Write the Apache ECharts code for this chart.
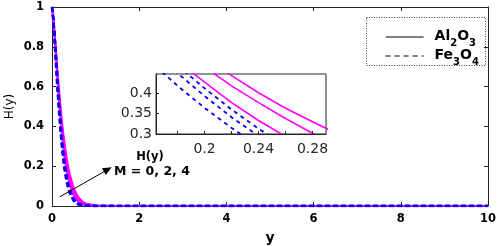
<!DOCTYPE html>
<html>
<head>
<meta charset="utf-8">
<script src="https://cdn.jsdelivr.net/npm/echarts@6/dist/echarts.min.js"></script>
<style>
html,body{margin:0;padding:0;background:#fff;}
#chart{width:498px;height:246px;}
</style>
</head>
<body>
<div id="chart"></div>
<script>
// ---- data ----
var yGrid = [0, 0.03, 0.06, 0.09, 0.12, 0.14, 0.16, 0.18, 0.2, 0.22, 0.24, 0.26, 0.28, 0.3, 0.34, 0.4, 0.5, 0.6, 0.7, 0.8, 1.0, 1.5, 10];
// Al2O3 (solid), M = 0, 2, 4
var al2o3_M0 = [1, 0.937, 0.847, 0.749, 0.652, 0.590, 0.531, 0.479, 0.427, 0.377, 0.333, 0.294, 0.258, 0.226, 0.171, 0.111, 0.051, 0.022, 0.009, 0.0035, 0.0005, 0, 0];
var al2o3_M2 = [1, 0.944, 0.861, 0.772, 0.682, 0.624, 0.568, 0.514, 0.464, 0.418, 0.377, 0.338, 0.302, 0.268, 0.208, 0.140, 0.069, 0.033, 0.015, 0.0064, 0.0011, 0, 0];
var al2o3_M4 = [1, 0.944, 0.865, 0.780, 0.695, 0.640, 0.587, 0.536, 0.488, 0.443, 0.401, 0.363, 0.330, 0.298, 0.236, 0.165, 0.088, 0.045, 0.022, 0.011, 0.0022, 0, 0];
// Fe3O4 (dashed), M = 0, 2, 4
var fe3o4_M0 = [1, 0.929, 0.825, 0.713, 0.603, 0.540, 0.477, 0.418, 0.364, 0.315, 0.271, 0.232, 0.196, 0.165, 0.117, 0.068, 0.025, 0.009, 0.003, 0.001, 0, 0, 0];
var fe3o4_M2 = [1, 0.940, 0.846, 0.741, 0.635, 0.569, 0.508, 0.449, 0.393, 0.341, 0.295, 0.254, 0.217, 0.184, 0.131, 0.076, 0.029, 0.010, 0.003, 0.001, 0, 0, 0];
var fe3o4_M4 = [1, 0.945, 0.857, 0.756, 0.654, 0.588, 0.526, 0.468, 0.412, 0.360, 0.313, 0.271, 0.233, 0.199, 0.143, 0.085, 0.033, 0.012, 0.004, 0.001, 0, 0, 0];

var xTicksMain = [0, 2, 4, 6, 8, 10];
var yTicksMain = [0, 0.2, 0.4, 0.6, 0.8, 1];
var insetXLabels = [0.2, 0.24, 0.28];
var insetXTicks = [0.18, 0.2, 0.22, 0.24, 0.26, 0.28];
var insetYLabels = [0.3, 0.35, 0.4];

var FONT = 'DejaVu Sans';
var AXC = '#262626';

function pairs(ys) { return yGrid.map(function (x, i) { return [x, ys[i]]; }); }

var solidSets = [al2o3_M0, al2o3_M2, al2o3_M4];
var dashSets = [fe3o4_M0, fe3o4_M2, fe3o4_M4];

var series = [];
function addSeries(xi, yi, wMag, wBlue, dash, zBase) {
  solidSets.forEach(function (d) {
    series.push({
      name: 'Al2O3', type: 'line', xAxisIndex: xi, yAxisIndex: yi,
      data: pairs(d), showSymbol: false, symbol: 'none', smooth: false,
      lineStyle: { color: '#ff00ff', width: wMag, type: 'solid' },
      itemStyle: { color: '#ff00ff' }, z: zBase, silent: true, animation: false
    });
  });
  dashSets.forEach(function (d) {
    series.push({
      name: 'Fe3O4', type: 'line', xAxisIndex: xi, yAxisIndex: yi,
      data: pairs(d), showSymbol: false, symbol: 'none', smooth: false,
      lineStyle: { color: '#0000ff', width: wBlue, type: dash },
      itemStyle: { color: '#0000ff' }, z: zBase + 1, silent: true, animation: false
    });
  });
}
addSeries(0, 0, 2, 2.5, [5, 3], 2);
addSeries(1, 1, 1.6, 1.8, [4, 4], 8);

var option = {
  animation: false,
  backgroundColor: '#fff',
  textStyle: { fontFamily: FONT },
  grid: [
    { left: 52, top: 7, width: 436, height: 199, show: false, containLabel: false, outerBoundsMode: 'none' },
    { left: 156, top: 74, width: 170, height: 60, show: true, backgroundColor: '#fff', borderColor: AXC, borderWidth: 1, containLabel: false, outerBoundsMode: 'none', z: 6 }
  ],
  xAxis: [
    {
      type: 'value', gridIndex: 0, min: 0, max: 10, interval: 2,
      name: 'y', nameLocation: 'middle', nameGap: 25, nameMoveOverlap: false,
      nameTextStyle: { fontFamily: FONT, fontWeight: 'bold', fontSize: 14, color: '#000' },
      axisLine: { show: true, onZero: false, lineStyle: { color: AXC, width: 1 } },
      axisTick: { show: true, inside: true, length: 4, lineStyle: { color: AXC } },
      axisLabel: { show: true, margin: 7, fontFamily: FONT, fontWeight: 'bold', fontSize: 11.5, color: '#000',
        customValues: xTicksMain },
      splitLine: { show: false }
    },
    {
      type: 'value', gridIndex: 1, min: 0.164, max: 0.29,
      axisLine: { show: true, onZero: false, lineStyle: { color: AXC, width: 1 } },
      axisTick: { show: true, inside: true, length: 3, lineStyle: { color: AXC }, customValues: insetXTicks },
      axisLabel: { show: true, margin: 8, fontFamily: FONT, fontSize: 14, color: AXC, customValues: insetXLabels },
      splitLine: { show: false }, z: 12
    },
    {
      type: 'value', gridIndex: 0, min: 0, max: 10, interval: 2, position: 'top',
      axisLine: { show: true, onZero: false, lineStyle: { color: AXC, width: 1 } },
      axisTick: { show: true, inside: true, length: 4, lineStyle: { color: AXC } },
      axisLabel: { show: false }, splitLine: { show: false }
    }
  ],
  yAxis: [
    {
      type: 'value', gridIndex: 0, min: 0, max: 1, interval: 0.2,
      name: 'H(y)', nameLocation: 'middle', nameGap: 36, nameRotate: 90, nameMoveOverlap: false,
      nameTextStyle: { fontFamily: FONT, fontSize: 12, color: '#000' },
      axisLine: { show: true, onZero: false, lineStyle: { color: AXC, width: 1 } },
      axisTick: { show: true, inside: true, length: 4, lineStyle: { color: AXC } },
      axisLabel: { show: true, margin: 8, fontFamily: FONT, fontWeight: 'bold', fontSize: 11.5, color: '#000',
        customValues: yTicksMain },
      splitLine: { show: false }
    },
    {
      type: 'value', gridIndex: 1, min: 0.3, max: 0.447,
      axisLine: { show: true, onZero: false, lineStyle: { color: AXC, width: 1 } },
      axisTick: { show: true, inside: true, length: 3, lineStyle: { color: AXC }, customValues: insetYLabels },
      axisLabel: { show: true, margin: 4, fontFamily: FONT, fontSize: 14, color: AXC, customValues: insetYLabels },
      splitLine: { show: false }, z: 12
    },
    {
      type: 'value', gridIndex: 0, min: 0, max: 1, interval: 0.2, position: 'right',
      axisLine: { show: true, onZero: false, lineStyle: { color: AXC, width: 1 } },
      axisTick: { show: true, inside: true, length: 4, lineStyle: { color: AXC } },
      axisLabel: { show: false }, splitLine: { show: false }
    }
  ],
  legend: {
    show: true,
    orient: 'vertical', left: 380, top: 24, itemWidth: 38, itemHeight: 12, itemGap: 0,
    selectedMode: false,
    data: [
      { name: 'Al2O3', lineStyle: { color: '#000', width: 1.2, type: 'solid' }, itemStyle: { opacity: 0 } },
      { name: 'Fe3O4', lineStyle: { color: '#000', width: 1.2, type: [5, 4] }, itemStyle: { opacity: 0 } }
    ],
    formatter: function (n) {
      if (n === 'Al2O3') return '{b|Al}{s|2}{b|O}{s|3}';
      return '{b|Fe}{s|3}{b|O}{s|4}';
    },
    textStyle: {
      padding: [0, 0, 0, 6],
      rich: {
        b: { fontFamily: FONT, fontWeight: 'bold', fontSize: 14, color: '#000', verticalAlign: 'top', lineHeight: 16 },
        s: { fontFamily: FONT, fontWeight: 'bold', fontSize: 10, color: '#000', verticalAlign: 'top', padding: [9, 0, 0, 0], lineHeight: 10 }
      }
    }
  },
  graphic: [
    { type: 'rect', shape: { x: 366.5, y: 17.5, width: 119, height: 48 }, style: { fill: 'none', stroke: '#444', lineWidth: 1, lineDash: [1, 1.5] }, z: 10, silent: true },
    { type: 'line', shape: { x1: 60, y1: 196.7, x2: 104.5, y2: 171.4 }, style: { stroke: '#000', lineWidth: 1 }, z: 10, silent: true },
    { type: 'polygon', shape: { points: [[111.7, 167.3], [105.9, 175.1], [101.9, 168.3]] }, style: { fill: '#000' }, z: 10, silent: true },
    { type: 'text', x: 114, y: 172, style: { text: 'M = 0, 2, 4', font: 'bold 12.5px "DejaVu Sans"', fill: '#000', verticalAlign: 'middle' }, z: 10, silent: true },
    { type: 'text', x: 150, y: 157, style: { text: 'H(y)', font: 'bold 11.5px "DejaVu Sans"', fill: '#000', align: 'center', verticalAlign: 'middle' }, z: 10, silent: true }
  ],
  series: series
};

var chart = echarts.init(document.getElementById('chart'), null, { renderer: 'canvas' });
chart.setOption(option);
</script>
</body>
</html>
